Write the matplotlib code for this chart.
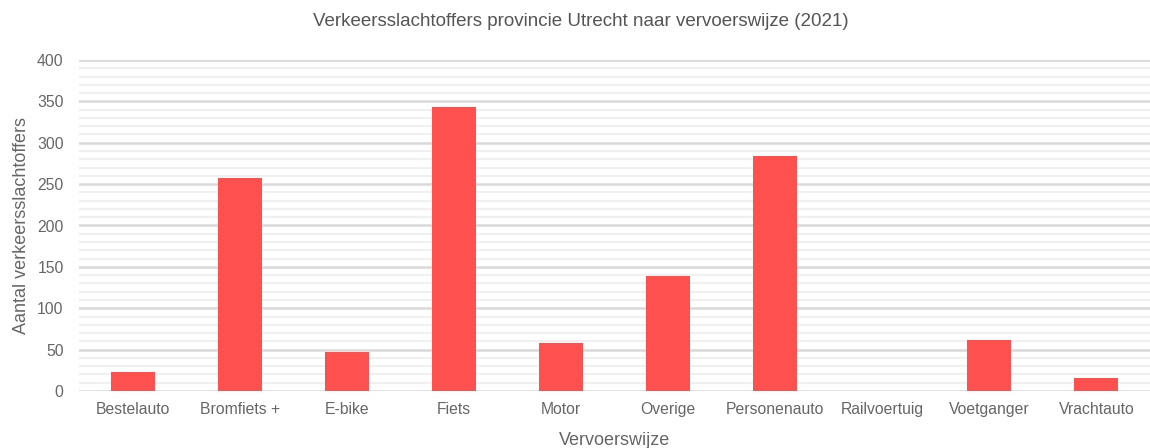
import matplotlib
matplotlib.use("Agg")
import matplotlib.pyplot as plt
from matplotlib.ticker import MultipleLocator

categories = ["Bestelauto", "Bromfiets +", "E-bike", "Fiets", "Motor", "Overige",
              "Personenauto", "Railvoertuig", "Voetganger", "Vrachtauto"]
values = [23, 257, 47, 343, 58, 139, 284, 0, 62, 16]

plt.rcParams['font.family'] = ['Liberation Sans', 'DejaVu Sans']

fig = plt.figure(figsize=(11.5, 4.48), dpi=100)
ax = fig.add_axes([79/1150, 57/448, (1150-79)/1150, 331/448])

x = list(range(len(categories)))
ax.bar(x, values, width=0.41, color="#ff5050", zorder=3)

ax.set_xlim(-0.5, len(categories) - 0.5)
ax.set_ylim(0, 400)
ax.yaxis.set_major_locator(MultipleLocator(50))
ax.yaxis.set_minor_locator(MultipleLocator(10))
ax.grid(axis='y', which='major', color='#d9d9d9', linewidth=1.8, zorder=0)
ax.grid(axis='y', which='minor', color='#f0f0f0', linewidth=1.5, zorder=0)
ax.set_axisbelow(True)
for s in ax.spines.values():
    s.set_visible(False)
ax.set_xticks(x)
ax.set_xticklabels(categories)
ax.tick_params(axis='both', which='both', length=0, labelsize=11.3, colors='#666666', pad=8)
ax.tick_params(axis='y', pad=11)
ax.set_xlabel("Vervoerswijze", fontsize=13, color='#666666', labelpad=11)
ax.set_ylabel("Aantal verkeersslachtoffers", fontsize=13, color='#666666', labelpad=5)
fig.text(0.505, 1 - 22/448, "Verkeersslachtoffers provincie Utrecht naar vervoerswijze (2021)",
         ha='center', va='center', fontsize=13.5, color='#555555')

fig.savefig("out.png", dpi=100)
